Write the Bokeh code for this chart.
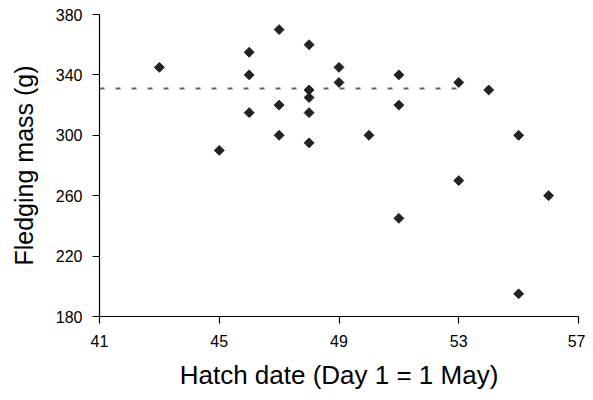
import math
from bokeh.plotting import figure
from bokeh.models import Range1d, FixedTicker
from bokeh.embed import file_html
from bokeh.resources import INLINE

hatch_date = [43, 45, 46, 46, 46, 47, 47, 47, 48, 48, 48, 48, 48, 49, 49, 50,
              51, 51, 51, 53, 53, 54, 55, 55, 56]
fledging_mass = [345, 290, 355, 340, 315, 370, 320, 300, 360, 330, 325, 315, 295,
                 345, 335, 300, 340, 320, 245, 335, 270, 330, 300, 195, 260]
mean_x = [41, 53]
mean_y = [331, 331]
x_ticks = [41, 45, 49, 53, 57]
y_ticks = [180, 220, 260, 300, 340, 380]

FONT = "Liberation Sans"

p = figure(width=585, height=392, output_backend="svg", toolbar_location=None,
           x_range=Range1d(41, 57), y_range=Range1d(180, 380),
           min_border_left=99, min_border_right=7, min_border_top=14,
           min_border_bottom=75)
p.outline_line_color = None
p.xgrid.visible = False
p.ygrid.visible = False
p.background_fill_color = "white"
p.border_fill_color = "white"

p.line(mean_x, mean_y, line_color="#666666", line_width=2, line_dash="5 11")
p.scatter(hatch_date, fledging_mass, marker="square", size=7, angle=math.pi / 4,
          fill_color="#222222", line_color="#222222", line_width=1)

for ax in (p.xaxis[0], p.yaxis[0]):
    ax.axis_line_color = "black"
    ax.axis_line_width = 1.2
    ax.major_tick_line_color = "black"
    ax.major_tick_line_width = 1.2
    ax.major_tick_out = 7
    ax.major_tick_in = 0
    ax.minor_tick_line_color = None
    ax.major_label_text_font = FONT
    ax.major_label_text_font_size = "16px"
    ax.major_label_text_color = "black"
    ax.axis_label_text_font = FONT
    ax.axis_label_text_font_style = "normal"
    ax.axis_label_text_color = "black"

p.xaxis.axis_label_text_font_size = "26px"
p.yaxis.axis_label_text_font_size = "25px"
p.xaxis.ticker = FixedTicker(ticks=x_ticks)
p.yaxis.ticker = FixedTicker(ticks=y_ticks)
p.xaxis.axis_label = "Hatch date (Day 1 = 1 May)"
p.yaxis.axis_label = "Fledging mass (g)"
p.xaxis.major_label_standoff = 11
p.yaxis.major_label_standoff = 10
p.xaxis.axis_label_standoff = 10
p.yaxis.axis_label_standoff = 15

open("out.html", "w").write(file_html(p, INLINE))
